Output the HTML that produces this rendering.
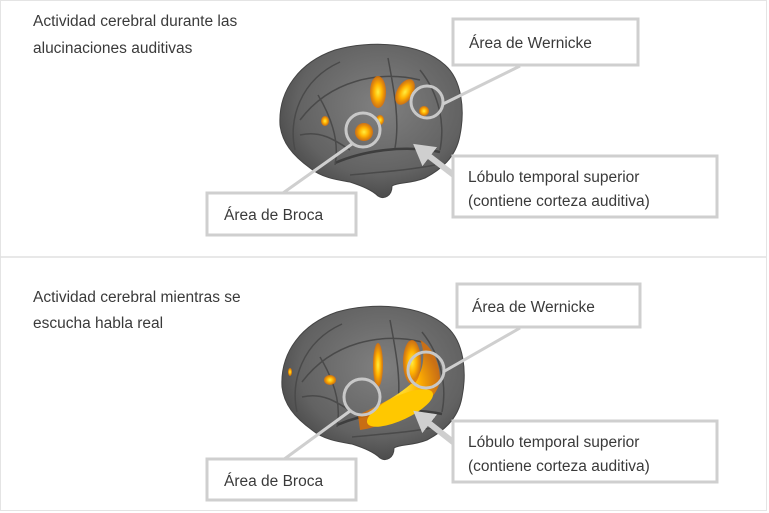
<!DOCTYPE html>
<html><head><meta charset="utf-8"><style>
html,body{margin:0;padding:0;background:#fff;}
svg{display:block;}
text{font-family:"Liberation Sans",sans-serif;font-size:15.5px;fill:#3a3a3a;}
</style></head><body>
<svg width="769" height="513" viewBox="0 0 769 513" xmlns="http://www.w3.org/2000/svg">
<defs>
<radialGradient id="hot" cx="50%" cy="50%" r="50%">
<stop offset="0" stop-color="#ffee40"/><stop offset="0.5" stop-color="#ffb000"/><stop offset="1" stop-color="#e07000" stop-opacity="0.8"/>
</radialGradient>
<radialGradient id="br" cx="55%" cy="40%" r="65%">
<stop offset="0" stop-color="#808080"/><stop offset="0.7" stop-color="#626262"/><stop offset="1" stop-color="#444"/>
</radialGradient>
<marker id="ah" markerWidth="3.5" markerHeight="4" refX="1" refY="2" orient="auto"><path d="M0,0 L3.5,2 L0,4 Z" fill="#cfcfcf"/></marker>
<g id="brain">
<path d="M280,125 C278,90 300,62 335,50 C370,40 420,42 445,65 C462,80 465,110 460,135 C456,158 440,170 425,178 C410,184 398,182 392,186 C392,196 384,200 378,196 C372,190 362,186 350,182 C338,180 322,178 310,168 C292,155 282,142 280,125 Z" fill="url(#br)" stroke="#444" stroke-width="1"/>
<path d="M335,163 C365,150 405,145 440,152" stroke="#3e3e3e" stroke-width="2.5" fill="none"/>
<path d="M295,150 C288,120 300,80 340,62 M300,120 C330,80 380,70 420,80 M318,95 C330,115 340,140 335,165 M388,58 C394,90 400,120 395,148 M420,70 C440,95 445,125 440,150 M300,135 C320,130 335,140 350,150 M350,175 C380,172 410,170 435,165" stroke="#4a4a4a" stroke-width="1.5" fill="none"/>
</g>
</defs>
<rect x="0.5" y="0.5" width="766" height="510" fill="none" stroke="#e4e4e4"/>
<line x1="0" y1="257" x2="766" y2="257" stroke="#e0e0e0" stroke-width="1.5"/>

<text x="33" y="26">Actividad cerebral durante las</text>
<text x="33" y="53">alucinaciones auditivas</text>
<use href="#brain"/>
<ellipse cx="378" cy="92" rx="8" ry="16" fill="url(#hot)"/>
<ellipse cx="405" cy="92" rx="8" ry="14" transform="rotate(30 405 92)" fill="url(#hot)"/>
<ellipse cx="364" cy="132" rx="9" ry="9" fill="url(#hot)"/>
<ellipse cx="424" cy="111" rx="5" ry="5" fill="url(#hot)"/>
<ellipse cx="325" cy="121" rx="4" ry="5" fill="url(#hot)"/>
<ellipse cx="380" cy="120" rx="4" ry="5" fill="url(#hot)"/>
<circle cx="363" cy="130" r="17" fill="none" stroke="#c8c8c8" stroke-width="3"/>
<circle cx="427" cy="102" r="16" fill="none" stroke="#c8c8c8" stroke-width="3"/>
<line x1="352" y1="144" x2="283" y2="193" stroke="#cfcfcf" stroke-width="3"/>
<line x1="443" y1="104" x2="520" y2="66" stroke="#cfcfcf" stroke-width="3"/>
<line x1="468" y1="186" x2="425" y2="153" stroke="#cfcfcf" stroke-width="6" marker-end="url(#ah)"/>
<rect x="453" y="19" width="185" height="46" fill="#fff" stroke="#cfcfcf" stroke-width="3"/>
<text x="469" y="48">Área de Wernicke</text>
<rect x="453" y="156" width="264" height="61" fill="#fff" stroke="#cfcfcf" stroke-width="3"/>
<text x="468" y="182">Lóbulo temporal superior</text>
<text x="468" y="206">(contiene corteza auditiva)</text>
<rect x="207" y="193" width="149" height="42" fill="#fff" stroke="#cfcfcf" stroke-width="3"/>
<text x="224" y="220">Área de Broca</text>

<text x="33" y="302">Actividad cerebral mientras se</text>
<text x="33" y="328">escucha habla real</text>
<use href="#brain" transform="translate(2,262)"/>
<path d="M358,415 C380,405 400,395 415,380 C425,370 425,350 420,340 C430,345 440,360 440,380 C438,395 425,405 410,412 C395,420 375,428 360,430 Z" fill="url(#hot)"/>
<ellipse cx="400" cy="408" rx="36" ry="12" transform="rotate(-25 400 408)" fill="#ffc800"/>
<ellipse cx="378" cy="365" rx="5" ry="22" fill="url(#hot)"/>
<ellipse cx="412" cy="362" rx="9" ry="22" fill="url(#hot)"/>
<ellipse cx="330" cy="380" rx="6" ry="5" fill="url(#hot)"/>
<ellipse cx="290" cy="372" rx="2" ry="4" fill="url(#hot)"/>
<circle cx="362" cy="397" r="18" fill="none" stroke="#c8c8c8" stroke-width="3"/>
<circle cx="426" cy="370" r="18" fill="none" stroke="#c8c8c8" stroke-width="3"/>
<line x1="350" y1="411" x2="283" y2="460" stroke="#cfcfcf" stroke-width="3"/>
<line x1="443" y1="372" x2="520" y2="328" stroke="#cfcfcf" stroke-width="3"/>
<line x1="467" y1="453" x2="425" y2="420" stroke="#cfcfcf" stroke-width="6" marker-end="url(#ah)"/>
<rect x="457" y="284" width="183" height="43" fill="#fff" stroke="#cfcfcf" stroke-width="3"/>
<text x="472" y="312">Área de Wernicke</text>
<rect x="453" y="421" width="264" height="61" fill="#fff" stroke="#cfcfcf" stroke-width="3"/>
<text x="468" y="447">Lóbulo temporal superior</text>
<text x="468" y="471">(contiene corteza auditiva)</text>
<rect x="207" y="459" width="149" height="41" fill="#fff" stroke="#cfcfcf" stroke-width="3"/>
<text x="224" y="486">Área de Broca</text>
</svg>
</body></html>
